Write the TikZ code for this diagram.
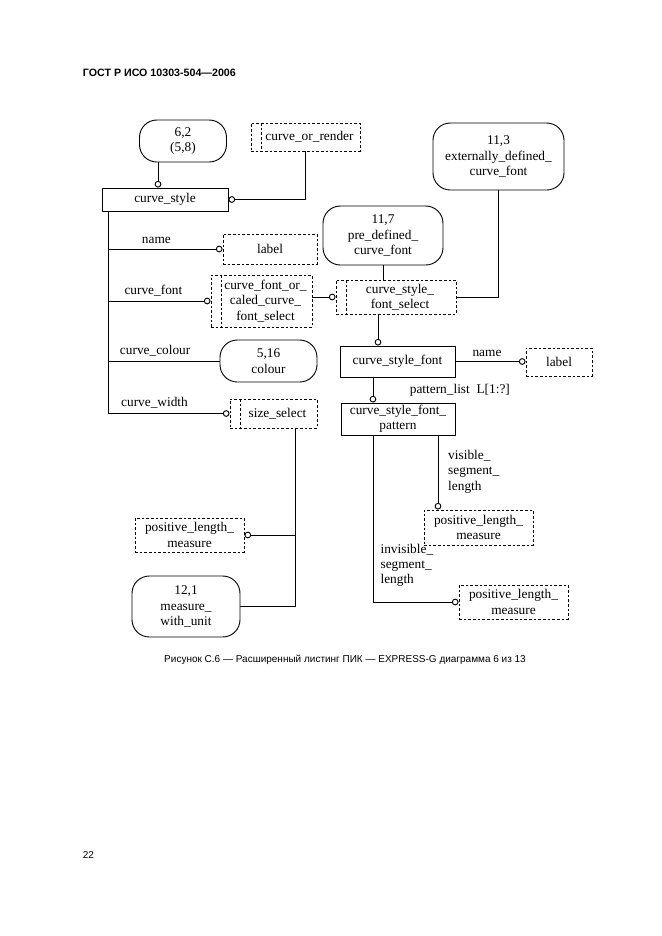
\documentclass[tikz,border=0pt]{standalone}
\usepackage{fontspec}
\setmainfont{Liberation Serif}
\setsansfont{Liberation Sans}
\usetikzlibrary{arrows.meta,positioning}
\tikzset{
  ring/.tip={Circle[open,length=5pt,width=5pt]},
  every node/.style={font=\fontsize{10}{11.5}\selectfont},
  ent/.style 2 args={draw,inner sep=0pt,align=center,minimum width=#1,minimum height=#2},
  ref/.style 2 args={ent={#1}{#2},rounded corners=13pt},
  dtype/.style 2 args={ent={#1}{#2},dash pattern=on 2pt off 1.5pt},
  stype/.style 2 args={dtype={#1}{#2},path picture={
    \draw[dash pattern=on 2pt off 1.5pt]([xshift=7.5pt]path picture bounding box.north west)--([xshift=7.5pt]path picture bounding box.south west);}},
}
\begin{document}
\begin{tikzpicture}[x=0.75pt,y=-0.75pt,line width=0.7pt]
  \useasboundingbox (0,0) rectangle (661,936);
  \node[anchor=west,font=\sffamily\bfseries\fontsize{8}{9}\selectfont](H) at (78,73){ГОСТ Р ИСО 10303-504—2006};
  \node[ref={65.25pt}{31.5pt}](R62) at (183,141){6,2\\(5,8)};
  \node[stype={81.75pt}{21pt}](COR) at (305.5,137){\hspace{6pt}curve\_or\_render};
  \node[ent={94.5pt}{17.25pt}](CS) at (165,199.5){curve\_style};
  \node[dtype={70.5pt}{22.5pt}](L1) at (270,249){label};
  \node[stype={75.75pt}{39pt}](CF) at (261.5,301){\hspace{6pt}curve\_font\_or\_\\\hspace{6pt}caled\_curve\_\\\hspace{6pt}font\_select};
  \node[ref={72.75pt}{31.5pt}](R516) at (268.5,361){5,16\\colour};
  \node[stype={65.25pt}{21.75pt}](SS) at (273.5,413.5){\hspace{6pt}size\_select};
  \node[dtype={81.75pt}{25.5pt}](PLM1) at (189.5,535){positive\_length\_\\measure};
  \node[ref={81pt}{45.75pt}](R121) at (186,606.5){12,1\\measure\_\\with\_unit};
  \node[ref={98.25pt}{50.25pt}](R113) at (498.5,156.5){11,3\\externally\_defined\_\\curve\_font};
  \node[ref={90pt}{44.25pt}](R117) at (383,235.5){11,7\\pre\_defined\_\\curve\_font};
  \node[stype={90pt}{25.5pt}](CSFS) at (396,297){\hspace{6pt}curve\_style\_\\\hspace{6pt}font\_select};
  \node[ent={86.25pt}{23.25pt}](CSF) at (397.5,361.5){curve\_style\_font};
  \node[dtype={49.5pt}{21pt}](L2) at (559,362){label};
  \node[ent={85.5pt}{24pt}](CSFP) at (398,419){curve\_style\_font\_\\pattern};
  \node[dtype={81.75pt}{26.25pt}](PLM2) at (478.5,527.5){positive\_length\_\\measure};
  \node[dtype={81.75pt}{25.5pt}](PLM3) at (513.5,602){positive\_length\_\\measure};
  \draw[-ring]([xshift=-5.25pt]CS.north |- R62.south)--([xshift=-5.25pt]CS.north);
  \draw[-ring](COR.south)|-(CS.east);
  \foreach \n/\t/\p/\a in {L1/name/.71/-ring, CF/curve\_font/.72/-ring, R516/curve\_colour/.71/-, SS/curve\_width/.69/-ring}
    \draw[\a]([xshift=5.25pt]CS.south west)|-(\n.west)node[pos=\p,above]{\t};
  \draw[-ring](CF.east |- CSFS.west)--(CSFS.west);
  \draw(R117.south)--(R117.south |- CSFS.north);
  \draw(R113.south)|-(CSFS.east);
  \draw[-ring]([xshift=-13.5pt]CSFS.south)--([xshift=-13.5pt]CSFS.south |- CSF.north);
  \draw[-ring](CSF.east)--(CSF.east -| L2.west)node[pos=.45,above]{name};
  \draw[-ring]([xshift=-18.4pt]CSF.south)--([xshift=-18.4pt]CSF.south |- CSFP.north)node[midway,right=24pt]{pattern\_list~ L[1:?]};
  \draw[-ring]([xshift=30pt]CSFP.south)--([xshift=30pt]CSFP.south |- PLM2.north)node[pos=.49,right=4pt,align=left]{visible\_\\segment\_\\length};
  \draw[-ring]([xshift=-18.75pt]CSFP.south)|-(PLM3.west)node[pos=.39,right=2pt,align=left]{invisible\_\\segment\_\\length};
  \draw[-ring]([xshift=16.1pt]SS.south)|-(PLM1.east);
  \draw([xshift=16.1pt]SS.south)|-(R121.east);
  \node[font=\sffamily\fontsize{7.5}{9}\selectfont](CAP) at (345,660){Рисунок С.6 — Расширенный листинг ПИК — EXPRESS-G диаграмма 6 из 13};
  \node[anchor=west,font=\sffamily\fontsize{7.5}{9}\selectfont](PG) at (78,855){22};
\end{tikzpicture}
\end{document}
